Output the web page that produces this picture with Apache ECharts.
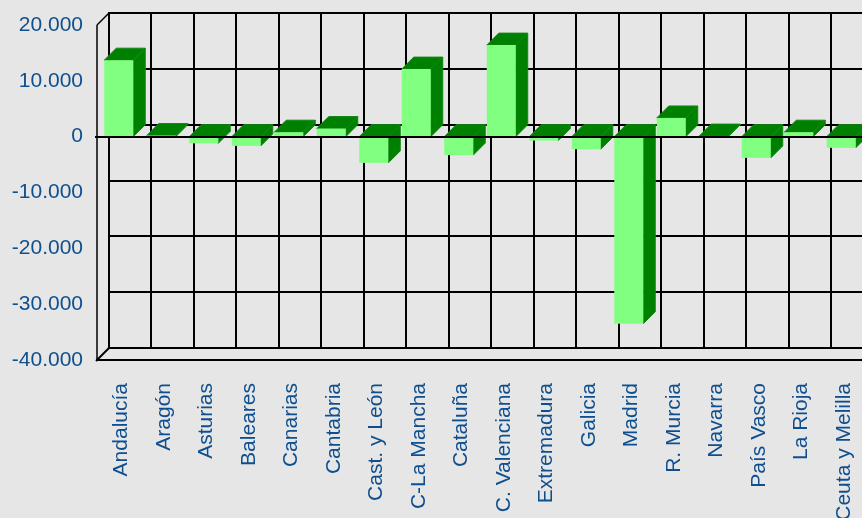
<!DOCTYPE html>
<html>
<head>
<meta charset="utf-8">
<style>html,body{margin:0;padding:0;background:#e6e6e6}#c{width:862px;height:518px}</style>
<script src="https://cdn.jsdelivr.net/npm/echarts@6/dist/echarts.min.js"></script>
</head>
<body>
<div id="c"></div>
<script>
const categories = ["Andalucía","Aragón","Asturias","Baleares","Canarias","Cantabria","Cast. y León","C-La Mancha","Cataluña","C. Valenciana","Extremadura","Galicia","Madrid","R. Murcia","Navarra","País Vasco","La Rioja","Ceuta y Melilla"];
const values = [13700,200,-1200,-1650,800,1450,-4700,12100,-3300,16400,-700,-2250,-33500,3350,100,-3800,800,-2000];
const yMin = -40000, yMax = 20000, yStep = 10000;
const yTicks = [-40000,-30000,-20000,-10000,0,10000,20000];
const DEPTH = 12, BAR_W = 29;
const LABEL = "#0f4f8f", FRONT = "#80ff80", DARK = "#008000", EDGE = "#128612";

const chart = echarts.init(document.getElementById('c'), null, {renderer:'canvas'});

function fmt(v){
  const s = Math.abs(v).toString().replace(/\B(?=(\d{3})+$)/g,'.');
  return (v<0?'-':'')+s;
}

function renderBar(params, api){
  const i = api.value(0), v = api.value(1);
  const c0 = api.coord([i,0]), c1 = api.coord([i,v]);
  const xL = c0[0]-BAR_W/2+0.5, xR = xL+BAR_W;
  const yT = Math.min(c0[1],c1[1]), yB = Math.max(c0[1],c1[1]);
  return {type:'group',children:[
    {type:'polygon',shape:{points:[[xR,yT],[xR+DEPTH,yT-DEPTH],[xR+DEPTH,yB-DEPTH],[xR,yB]]},style:{fill:DARK,stroke:EDGE,lineWidth:1}},
    {type:'polygon',shape:{points:[[xL,yT],[xL+DEPTH,yT-DEPTH],[xR+DEPTH,yT-DEPTH],[xR,yT]]},style:{fill:DARK,stroke:EDGE,lineWidth:1}},
    {type:'rect',shape:{x:xL,y:yT,width:BAR_W,height:yB-yT},style:{fill:FRONT}}
  ]};
}

const ln = (x1,y1,x2,y2,w)=>({type:'line',shape:{x1,y1,x2,y2},style:{stroke:'#000',lineWidth:w}});

function renderWall(params, api){
  const g = params.coordSys;
  const L = g.x+DEPTH, R = g.x+g.width+DEPTH, T = g.y-DEPTH, B = g.y+g.height-DEPTH;
  const kids = [];
  yTicks.forEach(t=>{
    const y = Math.round(api.coord([0,t])[1])-DEPTH;
    kids.push(ln(L,y,R,y,2));
  });
  const band = g.width/categories.length;
  categories.forEach((c,i)=>{
    const x = Math.floor(L+band*i);
    kids.push(ln(x,T-1,x,B+1,2));
  });
  return {type:'group',children:kids};
}

function renderFrame(params, api){
  const g = params.coordSys;
  const z = Math.round(api.coord([0,0])[1]);
  const L = g.x, R = g.x+g.width, T = g.y, B = g.y+g.height;
  return {type:'group',children:[
    ln(L,T,L,B,1.5),
    ln(L-1,B,R,B,2),
    ln(L,T,L+DEPTH,T-DEPTH,1.5),
    ln(L-1,B+1,L+DEPTH,B-DEPTH,2),
    ln(L-2,z,R,z,2)
  ]};
}

chart.setOption({
  animation:false,
  backgroundColor:'#e6e6e6',
  grid:{left:97,top:25,width:765,height:335,outerBoundsMode:'none'},
  xAxis:{type:'category',data:categories,position:'bottom',
     axisLine:{show:false,onZero:false},axisTick:{show:false},splitLine:{show:false},
     axisLabel:{interval:0,rotate:90,margin:23,verticalAlign:'top',lineHeight:6,color:LABEL,fontFamily:'Liberation Sans',fontSize:21,hideOverlap:false}},
  yAxis:{type:'value',min:yMin,max:yMax,interval:yStep,
     axisLine:{show:false},axisTick:{show:false},splitLine:{show:false},
     axisLabel:{margin:14,color:LABEL,fontFamily:'Liberation Sans',fontSize:21,formatter:fmt}},
  series:[
    {type:'custom',z:1,clip:false,silent:true,renderItem:renderWall,encode:{x:0,y:1},data:[[0,0]]},
    {type:'custom',z:2,clip:false,silent:true,renderItem:renderBar,encode:{x:0,y:1},data:values.map((v,i)=>[i,v])},
    {type:'custom',z:3,clip:false,silent:true,renderItem:renderFrame,encode:{x:0,y:1},data:[[0,0]]}
  ]
});
</script>
</body>
</html>
